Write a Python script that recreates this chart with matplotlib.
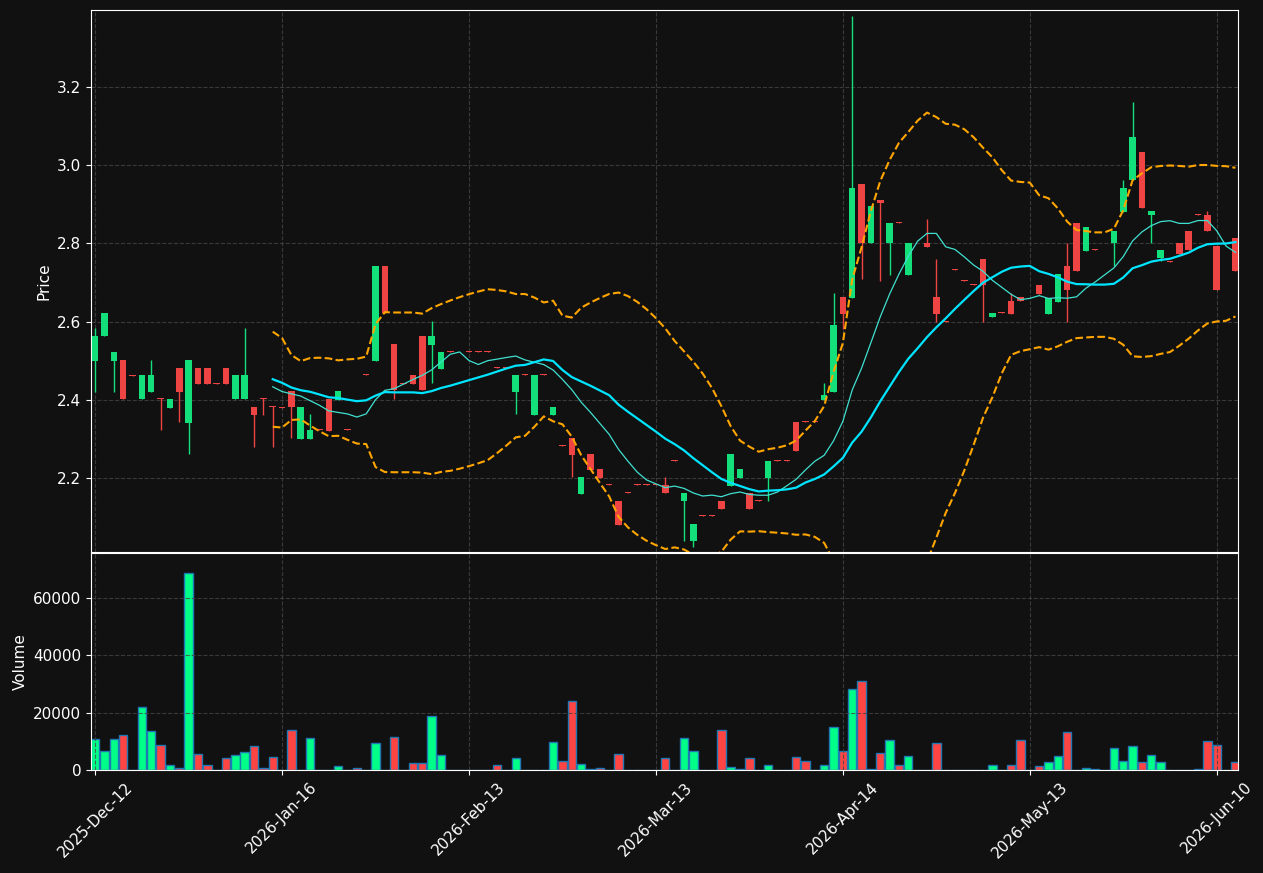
import numpy as np
import matplotlib
matplotlib.use("Agg")
import matplotlib.pyplot as plt

N = np.nan
# (open, high, low, close, volume) per bar index; NaN = no candle drawn
opens = [2.499,2.562,2.499,2.502,2.463,2.402,2.42,2.404,2.379,2.481,2.341,2.481,2.481,2.443,2.481,2.402,2.402,2.382,2.404,2.384,2.382,2.423,2.30,2.30,2.325,2.402,2.40,2.325,2.324,2.465,
         2.499,2.742,2.543,2.443,2.463,2.563,2.54,2.479,2.524,N,2.524,2.524,2.524,2.483,2.483,2.42,2.465,2.361,2.465,2.361,2.284,2.302,2.159,2.261,2.223,2.184,2.141,2.164,2.184,2.184,
         2.184,2.182,2.245,2.141,2.04,2.105,2.105,2.141,2.179,2.2,2.162,2.143,2.2,2.245,2.245,2.343,2.345,2.345,2.40,2.42,2.663,2.66,2.952,2.80,2.911,2.80,2.854,2.719,2.802,2.80,
         2.663,2.602,2.734,2.706,2.696,2.76,2.612,2.624,2.653,2.663,N,2.694,2.62,2.65,2.742,2.852,2.78,2.785,2.802,2.80,2.88,2.962,3.034,2.873,2.763,2.755,2.80,2.832,2.875,2.873,
         2.793,N,2.814]
highs = [2.584,2.622,2.522,2.502,2.463,2.463,2.502,2.404,2.402,2.481,2.502,2.481,2.481,2.443,2.481,2.463,2.584,2.382,2.404,2.384,2.382,2.423,2.382,2.364,2.325,2.402,2.423,2.325,2.324,2.465,
         2.742,2.742,2.543,2.443,2.463,2.563,2.602,2.522,2.524,N,2.524,2.524,2.524,2.483,2.483,2.463,2.465,2.463,2.465,2.382,2.284,2.302,2.203,2.261,2.223,2.184,2.141,2.164,2.184,2.184,
         2.184,2.203,2.245,2.162,2.083,2.105,2.105,2.141,2.261,2.223,2.162,2.143,2.243,2.245,2.245,2.343,2.345,2.345,2.443,2.673,2.663,3.382,2.952,2.896,2.911,2.852,2.854,2.80,2.802,2.862,
         2.76,2.602,2.734,2.706,2.696,2.76,2.622,2.624,2.673,2.663,N,2.694,2.66,2.722,2.80,2.852,2.842,2.785,2.802,2.832,2.962,3.162,3.034,2.883,2.783,2.755,2.80,2.832,2.875,2.883,
         2.793,N,2.814]
lows = [2.42,2.562,2.42,2.402,2.461,2.402,2.42,2.323,2.379,2.343,2.261,2.44,2.44,2.441,2.44,2.402,2.402,2.279,2.361,2.279,2.380,2.302,2.30,2.30,2.323,2.32,2.40,2.323,2.322,2.463,
         2.499,2.622,2.402,2.441,2.44,2.425,2.443,2.479,2.522,N,2.522,2.522,2.522,2.481,2.481,2.364,2.463,2.361,2.463,2.361,2.282,2.203,2.159,2.22,2.2,2.182,2.08,2.162,2.182,2.182,
         2.182,2.162,2.243,2.04,2.024,2.103,2.103,2.121,2.179,2.2,2.121,2.141,2.141,2.243,2.243,2.269,2.343,2.343,2.40,2.42,2.58,2.66,2.709,2.80,2.704,2.719,2.852,2.719,2.80,2.79,
         2.60,2.60,2.732,2.704,2.694,2.60,2.612,2.622,2.62,2.653,N,2.671,2.62,2.65,2.60,2.729,2.78,2.783,2.80,2.742,2.88,2.962,2.89,2.80,2.755,2.753,2.773,2.783,2.873,2.832,
         2.681,N,2.729]
closes = [2.563,2.622,2.522,2.402,2.461,2.463,2.463,2.402,2.402,2.42,2.502,2.44,2.44,2.441,2.44,2.463,2.463,2.361,2.402,2.382,2.380,2.382,2.382,2.323,2.323,2.32,2.423,2.323,2.322,2.463,
          2.742,2.622,2.425,2.441,2.44,2.425,2.563,2.522,2.522,N,2.522,2.522,2.522,2.481,2.481,2.463,2.463,2.463,2.463,2.382,2.282,2.259,2.203,2.22,2.2,2.182,2.08,2.162,2.182,2.182,
          2.182,2.162,2.243,2.162,2.083,2.103,2.103,2.121,2.261,2.223,2.121,2.141,2.243,2.243,2.243,2.269,2.343,2.343,2.413,2.592,2.62,2.942,2.80,2.896,2.903,2.852,2.852,2.80,2.80,2.79,
          2.62,2.60,2.732,2.704,2.694,2.694,2.622,2.622,2.62,2.653,N,2.671,2.66,2.722,2.681,2.729,2.842,2.783,2.80,2.832,2.942,3.072,2.89,2.883,2.783,2.753,2.773,2.783,2.873,2.832,
          2.681,N,2.729]
volumes = [10800,6600,10800,12200,0,22000,13600,8700,1700,700,68700,5600,1700,0,4200,5200,6300,8400,700,4500,0,13900,0,11100,0,0,1400,0,600,0,
           9500,0,11500,0,2400,2600,18800,5200,0,0,0,0,0,1700,0,4300,0,0,0,9800,3000,24000,2000,300,700,0,5500,0,0,0,
           0,4300,0,11200,6600,0,0,14000,1000,500,4100,0,1900,0,0,4700,3200,0,1900,15000,6600,28300,31000,400,5800,10300,1800,4900,0,0,
           9500,0,0,0,0,0,1800,0,1800,10300,0,1500,2900,4900,13300,0,600,500,0,7600,3100,8400,2900,5200,2900,0,0,0,300,10000,
           8700,0,2900]
tick_pos = [0, 20, 40, 60, 80, 100, 120]
tick_labels = ["2025-Dec-12", "2026-Jan-16", "2026-Feb-13", "2026-Mar-13", "2026-Apr-14", "2026-May-13", "2026-Jun-10"]

o = np.array(opens, float); h = np.array(highs, float); l = np.array(lows, float)
c = np.array(closes, float); v = np.array(volumes, float)
n = len(c)
x = np.arange(n)

cf = c.copy()
for i in range(1, n):
    if np.isnan(cf[i]):
        cf[i] = cf[i-1]

def rolling(a, w):
    m = np.full(len(a), np.nan); s = np.full(len(a), np.nan)
    for i in range(w-1, len(a)):
        m[i] = a[i-w+1:i+1].mean(); s[i] = a[i-w+1:i+1].std()
    return m, s

ma20, sd20 = rolling(cf, 20)
ma10, _ = rolling(cf, 10)
ma10[:19] = np.nan

BG = "#111111"
UP = "#13e07a"; DN = "#ef4444"
VUP = "#00ff88"; VDN = "#ff4444"

fig = plt.figure(figsize=(12.63, 8.73), dpi=100, facecolor=BG)
ax = fig.add_axes([0.072, 0.3677, 0.908, 0.621], facecolor=BG)
axv = fig.add_axes([0.072, 0.118, 0.908, 0.2486], facecolor=BG, sharex=ax)

for i in range(n):
    if np.isnan(c[i]):
        continue
    col = UP if c[i] >= o[i] else DN
    ax.vlines(x[i], l[i], h[i], color=col, lw=1, zorder=2)
    bot = min(o[i], c[i]); ht = max(abs(c[i]-o[i]), 0.002)
    ax.bar(x[i], ht, bottom=bot, width=0.7, color=col, zorder=3)

ax.plot(x, ma10, color="#40e0d0", lw=0.9, zorder=4)
ax.plot(x, ma20, color="#00e5ff", lw=1.6, zorder=4)
ax.plot(x, ma20 + 2*sd20, color="#ffa500", lw=1.5, ls="--", zorder=4)
ax.plot(x, ma20 - 2*sd20, color="#ffa500", lw=1.5, ls="--", zorder=4)

vcols = [VUP if (not np.isnan(c[i]) and c[i] >= o[i]) else VDN for i in range(n)]
axv.bar(x, v, width=0.9, color=vcols, edgecolor="#1f77b4", linewidth=1)

ax.set_ylim(2.011, 3.397)
ax.set_yticks([2.2, 2.4, 2.6, 2.8, 3.0, 3.2])
axv.set_ylim(0, 75700)
axv.set_yticks([0, 20000, 40000, 60000])
ax.set_xlim(-0.45, 122.25)
axv.set_xticks(tick_pos)
axv.set_xticklabels(tick_labels, rotation=45)
plt.setp(ax.get_xticklabels(), visible=False)

for a in (ax, axv):
    a.grid(True, color="#444444", ls="--", lw=0.8, alpha=0.8)
    a.tick_params(colors="white", labelsize=11)
    for s in a.spines.values():
        s.set_color("white")
ax.set_ylabel("Price", color="white", fontsize=11)
axv.set_ylabel("Volume", color="white", fontsize=11)

fig.savefig("out.png", dpi=100, facecolor=BG)
